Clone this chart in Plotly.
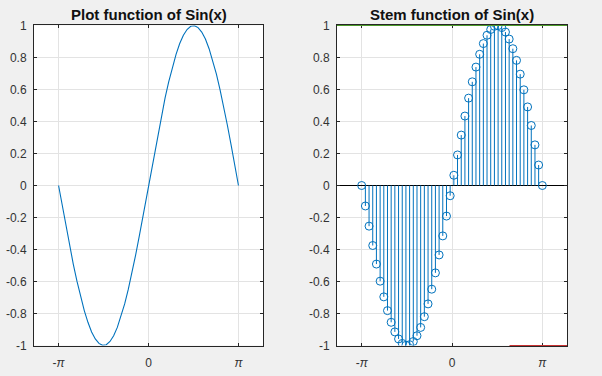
import plotly.graph_objects as go

# Sample points (50 evenly spaced samples from -pi to pi)
x_vals = [-3.142, -3.013, -2.885, -2.757, -2.629, -2.500, -2.372, -2.244, -2.116, -1.988,
          -1.859, -1.731, -1.603, -1.475, -1.346, -1.218, -1.090, -0.962, -0.833, -0.705,
          -0.577, -0.449, -0.321, -0.192, -0.064, 0.064, 0.192, 0.321, 0.449, 0.577,
          0.705, 0.833, 0.962, 1.090, 1.218, 1.346, 1.475, 1.603, 1.731, 1.859,
          1.988, 2.116, 2.244, 2.372, 2.500, 2.629, 2.757, 2.885, 3.013, 3.142]
sin_vals = [0.000, -0.128, -0.254, -0.375, -0.491, -0.598, -0.696, -0.782, -0.855, -0.915,
            -0.959, -0.987, -0.999, -0.995, -0.975, -0.939, -0.887, -0.820, -0.740, -0.648,
            -0.546, -0.434, -0.315, -0.191, -0.064, 0.064, 0.191, 0.315, 0.434, 0.546,
            0.648, 0.740, 0.820, 0.887, 0.939, 0.975, 0.995, 0.999, 0.987, 0.959,
            0.915, 0.855, 0.782, 0.696, 0.598, 0.491, 0.375, 0.254, 0.128, 0.000]

x_tick_vals = [-3.14159265, 0, 3.14159265]
x_tick_text = ["-<i>π</i>", "0", "<i>π</i>"]
y_tick_vals = [-1, -0.8, -0.6, -0.4, -0.2, 0, 0.2, 0.4, 0.6, 0.8, 1]
y_tick_text = ["-1", "-0.8", "-0.6", "-0.4", "-0.2", "0", "0.2", "0.4", "0.6", "0.8", "1"]
titles = ["Plot function of Sin(x)", "Stem function of Sin(x)"]

BLUE = "#0072BD"
AX = "#262626"
GRID = "#e3e3e3"

fig = go.Figure()

# Left: line plot
fig.add_trace(go.Scatter(x=x_vals, y=sin_vals, mode="lines",
                         line=dict(color=BLUE, width=1.1),
                         xaxis="x", yaxis="y", showlegend=False))

# Right: stems
stem_x, stem_y = [], []
for xv, yv in zip(x_vals, sin_vals):
    stem_x += [xv, xv, None]
    stem_y += [0, yv, None]
fig.add_trace(go.Scatter(x=stem_x, y=stem_y, mode="lines",
                         line=dict(color=BLUE, width=1),
                         xaxis="x2", yaxis="y2", showlegend=False))
fig.add_trace(go.Scatter(x=x_vals, y=sin_vals, mode="markers",
                         marker=dict(symbol="circle-open", size=8, color=BLUE,
                                     line=dict(width=1, color=BLUE)),
                         xaxis="x2", yaxis="y2", showlegend=False))

font_ticks = dict(family="Liberation Sans, Arial", size=12, color="#333333")

def xax(domain, anchor):
    return dict(domain=domain, anchor=anchor, range=[-4, 4], tickvals=x_tick_vals,
                ticktext=x_tick_text, ticks="inside", ticklen=3, tickcolor=AX,
                showline=True, linecolor=AX, linewidth=1, mirror="ticks",
                showgrid=True, gridcolor=GRID, gridwidth=1, zeroline=False,
                tickfont=font_ticks, ticklabelstandoff=6, fixedrange=True,
                automargin=False)

def yax(anchor, zero):
    return dict(domain=[0.0811, 0.9322], anchor=anchor, range=[-1, 1],
                tickvals=y_tick_vals, ticktext=y_tick_text, ticks="inside", ticklen=3,
                tickcolor=AX, showline=True, linecolor=AX, linewidth=1, mirror="ticks",
                showgrid=True, gridcolor=GRID, gridwidth=1,
                zeroline=zero, zerolinecolor="#000000", zerolinewidth=1,
                tickfont=font_ticks, ticklabelstandoff=4, fixedrange=True,
                automargin=False)

title_font = dict(family="Liberation Sans, Arial", size=15, color="#111111")
title_y = (376 - 14) / 376

fig.update_layout(
    width=602, height=376,
    margin=dict(l=0, r=0, t=0, b=0, autoexpand=False),
    paper_bgcolor="#f0f0f0", plot_bgcolor="#ffffff",
    xaxis=xax([0.0565, 0.4369], "y"),
    yaxis=yax("x", False),
    xaxis2=xax([0.5598, 0.9419], "y2"),
    yaxis2=yax("x2", True),
    annotations=[
        dict(text="<b>%s</b>" % titles[0], x=0.2467, y=title_y, xref="paper", yref="paper",
             xanchor="center", yanchor="middle", showarrow=False, font=title_font),
        dict(text="<b>%s</b>" % titles[1], x=0.7508, y=title_y, xref="paper", yref="paper",
             xanchor="center", yanchor="middle", showarrow=False, font=title_font),
    ],
    shapes=[
        dict(type="line", xref="x2 domain", yref="y2 domain", x0=0, x1=1, y0=1, y1=1,
             layer="above", line=dict(color="#4c9a2a", width=1.2)),
        dict(type="line", xref="x2 domain", yref="y2 domain", x0=0.75, x1=1, y0=0, y1=0,
             layer="above", line=dict(color="#c83232", width=1.2)),
    ],
)

fig.write_html("out.html", config={"displayModeBar": False},
               post_script="document.body.style.margin='0';document.body.style.background='#f0f0f0';")
